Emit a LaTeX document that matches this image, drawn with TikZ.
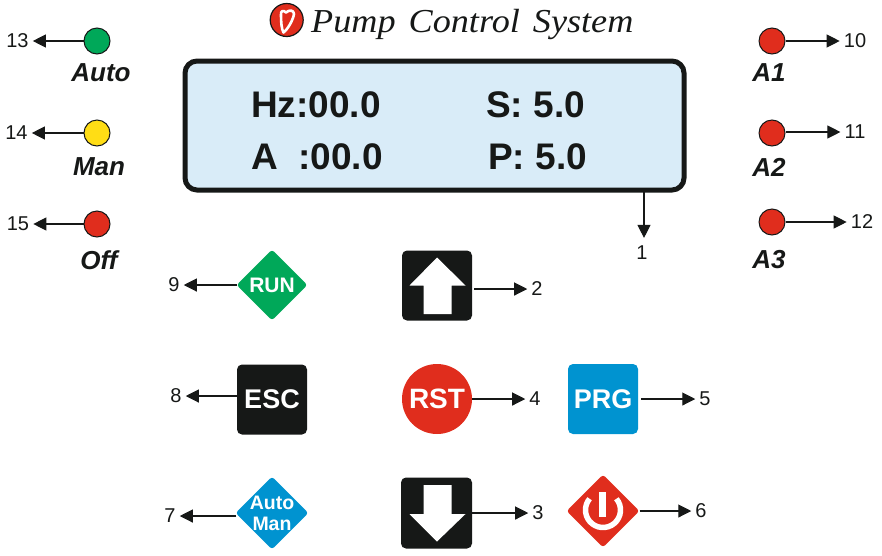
\documentclass[tikz,border=0pt]{standalone}
\usepackage{fontspec}
\setmainfont{Liberation Sans}
\newfontfamily\titlefont[FakeStretch=1.08]{Liberation Serif}
\usetikzlibrary{arrows.meta,shapes.geometric}
\definecolor{padblack}{HTML}{161817}
\definecolor{padred}{HTML}{E02D1D}
\definecolor{padblue}{HTML}{0093D0}
\definecolor{padgreen}{HTML}{00A859}
\definecolor{padyellow}{HTML}{FFDD15}
\definecolor{lcdblue}{HTML}{D9ECF8}
\tikzset{
	lamp/.style={circle,draw=padblack,line width=1pt,minimum size=26pt,inner sep=0pt},
	lamptext/.style={font=\bfseries\itshape\fontsize{26}{26}\selectfont,text=padblack,inner sep=0pt},
	num/.style={font=\fontsize{20}{20}\selectfont,text=padblack,inner sep=4pt},
	lcdtext/.style={font=\bfseries\fontsize{37}{37}\selectfont,text=padblack,inner sep=0pt,anchor=base west},
	keybox/.style={rectangle,minimum size=70pt,inner sep=0pt,rounded corners=5pt,text=white},
	keydiam/.style={diamond,aspect=1,minimum size=71pt,inner sep=-4pt,rounded corners=3pt,text=white},
	pointer/.style={line width=1.1pt,draw=padblack,-{Triangle[length=13pt,width=13pt]}}
}
\begin{document}
\begin{tikzpicture}[x=1pt,y=-1pt]
	\useasboundingbox (0,0) rectangle (882,555);
	% title
	\node[circle,draw=padblack,line width=1.2pt,fill=padred,minimum size=33pt,inner sep=0pt] (logo) at (286.7,20) {};
	\draw[white,line width=2.6pt,line join=round] (286,12.5) .. controls (283,9.5) and (280.5,11) .. (281,15) .. controls (281,22) and (281.5,29) .. (283.5,32.5) .. controls (288,29) and (293,20) .. (294,14) .. controls (294,10) and (289,9.5) .. (286,12.5) -- cycle;
	\node[anchor=base west,inner sep=0pt,font=\titlefont\itshape\fontsize{33.5}{33.5}\selectfont,text=padblack] (title) at (311,32.5) {Pump\hspace{4pt} Control\hspace{4pt} System};
	% display
	\node[draw=padblack,line width=5pt,fill=lcdblue,rounded corners=12pt,minimum width=499pt,minimum height=129pt,inner sep=0pt] (lcd) at (434.5,125.5) {};
	\node[lcdtext] (hz) at (251,117) {Hz:00.0};
	\node[lcdtext] (sp) at (486,117) {S: 5.0};
	\node[lcdtext] (amp) at (251,169) {A\ \ :00.0};
	\node[lcdtext] (pr) at (488,169) {P: 5.0};
	\node[num] (n1) at (642,253) {1};
	\draw[pointer,shorten >=4pt] (n1 |- lcd.south) ++(2,-2) coordinate (lcdout) -- (lcdout |- n1.north);
	% lamps
	\node[lamp,fill=padgreen] (auto) at (97,41) {};
	\node[lamp,fill=padyellow] (man) at (97,133) {};
	\node[lamp,fill=padred] (off) at (97,224) {};
	\node[lamp,fill=padred] (aone) at (772,41) {};
	\node[lamp,fill=padred] (atwo) at (772,133) {};
	\node[lamp,fill=padred] (athree) at (772,222) {};
	\node[lamptext] at (101,73) {Auto};
	\node[lamptext] at (99,167) {Man};
	\node[lamptext] at (99,260) {Off};
	\node[lamptext] at (769,73) {A1};
	\node[lamptext] at (769,167) {A2};
	\node[lamptext] at (769,260) {A3};
	\node[num] (n13) at (17.5,41) {13};
	\node[num] (n14) at (16.5,133) {14};
	\node[num] (n15) at (18,224) {15};
	\node[num] (n10) at (855,41) {10};
	\node[num] (n11) at (855,132) {11};
	\node[num] (n12) at (862,222) {12};
	\draw[pointer] (auto.west |- n13) -- (n13);
	\draw[pointer] (man.west |- n14) -- (n14);
	\draw[pointer] (off.west |- n15) -- (n15);
	\draw[pointer] (aone.east |- n10) -- (n10);
	\draw[pointer] (atwo.east |- n11) -- (n11);
	\draw[pointer] (athree.east |- n12) -- (n12);
	% keys
	\node[keydiam,fill=padgreen,font=\bfseries\fontsize{21}{21}\selectfont] (run) at (272,285) {RUN};
	\node[keybox,fill=padblack,font=\bfseries\fontsize{27}{27}\selectfont] (esc) at (272,399.5) {ESC};
	\node[keydiam,fill=padblue,font=\bfseries\fontsize{19.5}{21}\selectfont,align=center,minimum size=73pt] (automan) at (272,513) {Auto\\Man};
	\node[keybox,fill=padblack] (up) at (437,285.5) {};
	\node[circle,fill=padred,minimum size=70pt,inner sep=0pt,text=white,font=\bfseries\fontsize{28}{28}\selectfont] (rst) at (437,399) {RST};
	\node[keybox,fill=padblack,minimum size=71pt] (down) at (436.5,513) {};
	\node[keybox,fill=padblue,font=\bfseries\fontsize{27}{27}\selectfont] (prg) at (603,399) {PRG};
	\node[keydiam,fill=padred,minimum size=73pt] (pwr) at (603,511) {};
	\fill[white] (437,257.5)--(465.5,285.5)--(451.5,285.5)--(451.5,314)--(423.5,314)--(423.5,285.5)--(409.5,285.5)--cycle;
	\fill[white] (437,541.5)--(465.5,514)--(451.5,514)--(451.5,485)--(423.5,485)--(423.5,514)--(409.5,514)--cycle;
	\draw[white,line width=5.5pt] (603,510) ++(-40:17.5) arc[start angle=-40,end angle=220,radius=17.5];
	\fill[white] (599,492) rectangle (606,516.5);
	\node[num] (n9) at (174,285) {9};
	\node[num] (n8) at (176,396) {8};
	\node[num] (n7) at (170,516) {7};
	\node[num] (n2) at (537,289) {2};
	\node[num] (n4) at (535,399) {4};
	\node[num] (n3) at (538,513) {3};
	\node[num] (n5) at (705,399) {5};
	\node[num] (n6) at (701,511) {6};
	\draw[pointer] (run.west |- n9) ++(1,0) -- (n9);
	\draw[pointer] (esc.west |- n8) -- (n8);
	\draw[pointer] (automan.west |- n7) ++(1,0) -- (n7);
	\draw[pointer] (up.east |- n2) ++(2,0) -- (n2);
	\draw[pointer] (rst.east) -- (n4);
	\draw[pointer] (down.east |- n3) -- (n3);
	\draw[pointer] (prg.east) ++(3,0) -- (n5);
	\draw[pointer] (pwr.east) -- (n6);
\end{tikzpicture}
\end{document}
